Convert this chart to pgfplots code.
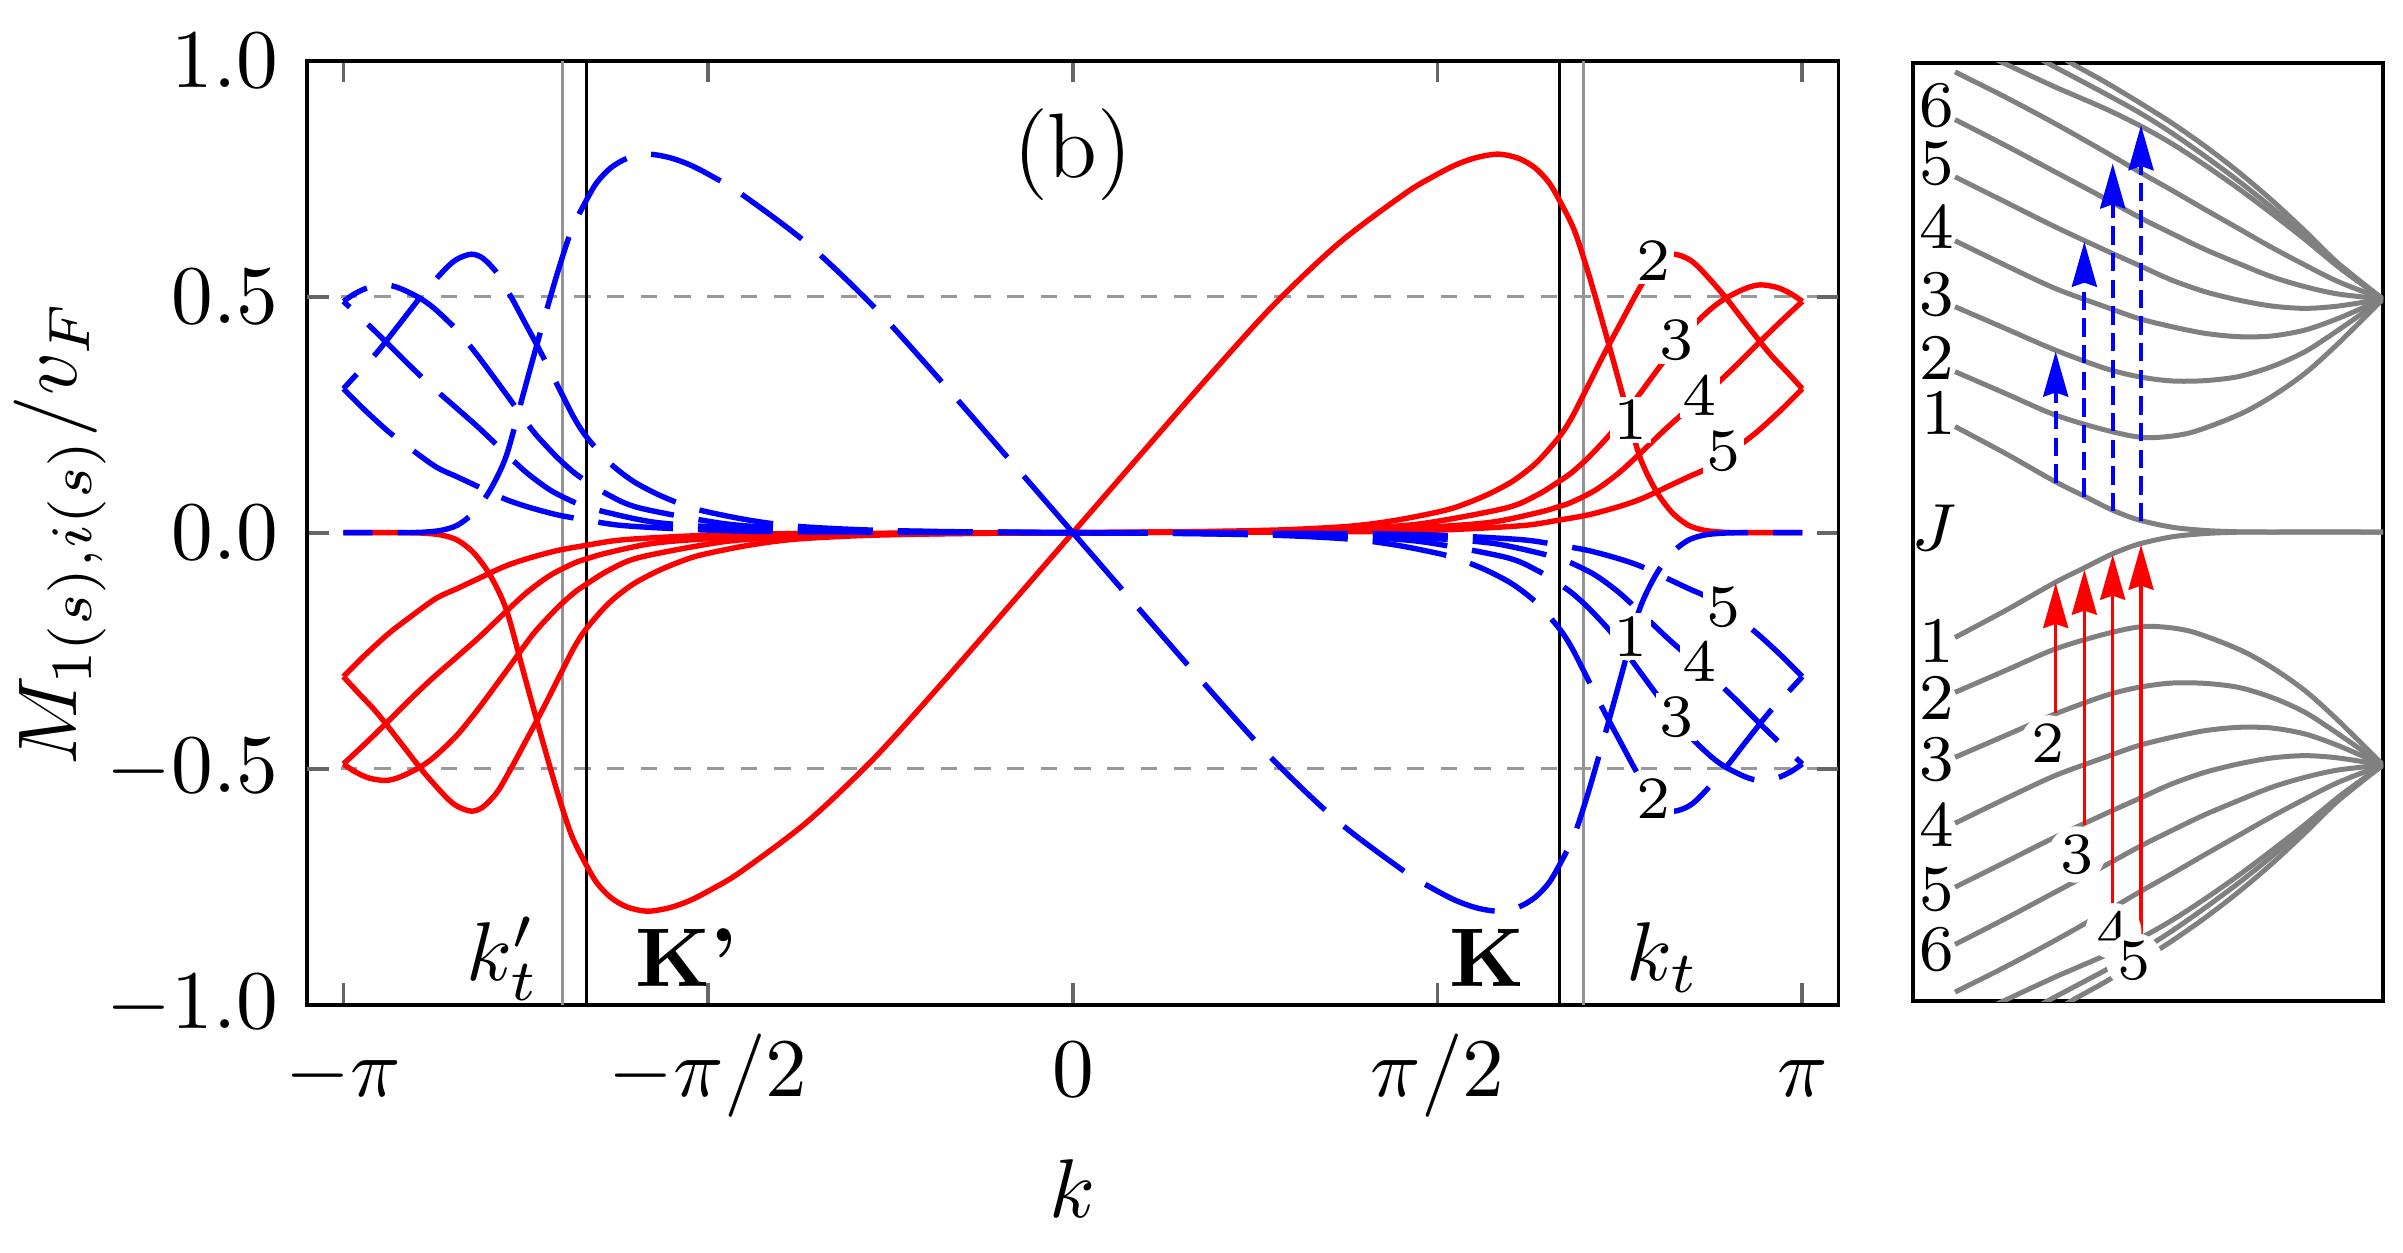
\documentclass[border=0pt]{standalone}
\usepackage{fontspec}
\usepackage{pgfplots}
\pgfplotsset{compat=1.18}
\usepackage{pgfplotstable}
\usetikzlibrary{arrows.meta}

% ---------- main panel: M_n(k) for k>=0 (odd in k); blue = -red ----------
\pgfplotstableread{
k y
0 0
0.284 0.161
0.571 0.323
0.858 0.479
1.145 0.613
1.432 0.719
1.55 0.754
1.648 0.779
1.74 0.795
1.834 0.802
1.92 0.793
1.99 0.773
2.05 0.742
2.10 0.700
2.16 0.640
2.22 0.550
2.28 0.448
2.33 0.360
2.37 0.288
2.44 0.163
2.51 0.090
2.58 0.043
2.65 0.016
2.72 0.005
2.80 0.001
2.90 0
3.1416 0
}\Rone
\pgfplotstableread{
k y
0 0
0.5 0.002
0.9 0.006
1.2 0.014
1.4 0.027
1.6 0.047
1.7 0.063
1.8 0.084
1.9 0.111
2.0 0.150
2.098 0.205
2.15 0.245
2.199 0.292
2.25 0.342
2.30 0.390
2.36 0.445
2.42 0.500
2.48 0.550
2.54 0.581
2.59 0.590
2.65 0.580
2.70 0.560
2.80 0.505
2.90 0.442
3.00 0.380
3.08 0.338
3.1416 0.305
}\Rtwo
\pgfplotstableread{
k y
0 0
0.8 0.003
1.2 0.009
1.5 0.019
1.863 0.052
2.0 0.080
2.098 0.110
2.15 0.128
2.222 0.160
2.313 0.208
2.37 0.245
2.428 0.285
2.543 0.362
2.60 0.398
2.658 0.432
2.75 0.475
2.816 0.498
2.90 0.518
2.96 0.525
3.03 0.520
3.09 0.507
3.1416 0.490
}\Rthree
\pgfplotstableread{
k y
0 0
1.0 0.003
1.5 0.011
1.8 0.022
2.007 0.043
2.098 0.056
2.15 0.065
2.25 0.090
2.35 0.126
2.443 0.168
2.558 0.222
2.65 0.262
2.766 0.312
2.86 0.356
2.96 0.405
3.05 0.448
3.1416 0.490
}\Rfour
\pgfplotstableread{
k y
0 0
1.2 0.002
1.6 0.006
1.936 0.015
2.098 0.027
2.222 0.038
2.35 0.055
2.45 0.072
2.572 0.100
2.65 0.118
2.745 0.140
2.874 0.186
2.95 0.215
3.05 0.260
3.1416 0.305
}\Rfive

% ---------- inset: upper levels (lower ones are mirrored) ----------
\pgfplotstableread{
zx zy
150 1130
300 1210
450 1295
540 1340
620 1380
700 1410
800 1432
900 1442
1000 1446
1100 1446.6
1434 1446.6
}\Uone
\pgfplotstableread{
zx zy
150 965
300 1030
450 1095
600 1140
720 1163
850 1150
1000 1095
1100 1040
1200 970
1300 880
1434 747
}\Utwo
\pgfplotstableread{
zx zy
150 770
300 835
450 900
600 955
700 980
800 993
900 992
1000 980
1100 950
1200 905
1300 840
1434 747
}\Uthree
\pgfplotstableread{
zx zy
150 572
300 645
450 715
600 770
700 805
800 830
900 850
1000 860
1100 858
1200 840
1300 805
1434 747
}\Ufour
\pgfplotstableread{
zx zy
150 380
300 455
450 530
600 600
700 645
800 690
900 725
1000 750
1100 768
1200 775
1300 768
1434 747
}\Ufive
\pgfplotstableread{
zx zy
150 208
300 285
450 365
600 445
700 500
800 550
900 598
1000 640
1100 680
1200 710
1300 732
1434 747
}\Usix
\pgfplotstableread{
zx zy
150 65
300 140
450 220
600 305
708 368
800 420
900 478
1000 535
1100 592
1200 645
1300 695
1434 747
}\Useven
\pgfplotstableread{
zx zy
250 17
310 45
450 110
600 175
708 228
800 280
900 345
1000 415
1100 490
1200 568
1300 650
1434 747
}\Tone
\pgfplotstableread{
zx zy
380 12
440 45
600 130
708 190
800 248
900 318
1000 392
1100 472
1200 558
1300 650
1434 747
}\Ttwo
\pgfplotstableread{
zx zy
460 15
510 45
600 95
708 160
800 218
900 288
1000 365
1100 450
1200 543
1300 640
1434 747
}\Tthree

\pgfplotsset{
  rc/.style={red, line width=0.65pt, smooth, no markers},
  bc/.style={blue, line width=0.65pt, smooth, no markers, dash pattern=on 9pt off 3pt},
  gc/.style={black!50, line width=0.6pt, smooth, no markers},
}
\tikzset{
  nl/.style={fill=white, inner sep=0.4pt, font=\fontsize{7.2}{8}\selectfont},
  il/.style={inner sep=0pt, font=\fontsize{7.8}{9}\selectfont},
  al/.style={fill=white, circle, inner sep=0.2pt, font=\fontsize{7}{8}\selectfont},
}

\begin{document}
\begin{tikzpicture}
\useasboundingbox (0,0) rectangle (288.36pt,150.24pt);
\begin{axis}[
  at={(36.88pt,29.68pt)}, anchor=south west,
  scale only axis, width=183.72pt, height=113.28pt,
  xmin=-3.297, xmax=3.297, ymin=-1, ymax=1,
  axis line style={line width=0.45pt},
  tick align=inside, major tick length=2.6pt,
  tick style={black!60, line width=0.45pt},
  xtick={-3.14159,-1.5708,0,1.5708,3.14159},
  xticklabels={$-\pi$,$-\pi/2$,$0$,$\pi/2$,$\pi$},
  ytick={-1,-0.5,0,0.5,1},
  yticklabels={$-1.0$,$-0.5$,$0.0$,$0.5$,$1.0$},
  xticklabel style={text height=0.75em, text depth=0.25em},
  extra y ticks={-0.5,0.5}, extra y tick labels={},
  extra y tick style={grid=major},
  major grid style={black!40, line width=0.4pt, dash pattern=on 2pt off 2pt},
  xlabel={$k$}, xlabel style={at={(axis description cs:0.5,-0.225)}, anchor=base},
  ylabel={$M_{1(s),i(s)}/v_F$},
  ylabel style={at={(axis description cs:-0.1506,0.5)}, anchor=base},
]
\addplot[black, line width=0.32pt] coordinates {(-2.0944,-1) (-2.0944,1)};
\addplot[black, line width=0.32pt] coordinates {(2.0944,-1) (2.0944,1)};
\addplot[black!42, line width=0.36pt] coordinates {(-2.1991,-1) (-2.1991,1)};
\addplot[black!42, line width=0.36pt] coordinates {(2.1991,-1) (2.1991,1)};

\addplot[rc] table[x=k,y=y]{\Rone};
\addplot[rc] table[x expr=-\thisrow{k}, y expr=-\thisrow{y}]{\Rone};
\addplot[rc] table[x=k,y=y]{\Rtwo};
\addplot[rc] table[x expr=-\thisrow{k}, y expr=-\thisrow{y}]{\Rtwo};
\addplot[rc] table[x=k,y=y]{\Rthree};
\addplot[rc] table[x expr=-\thisrow{k}, y expr=-\thisrow{y}]{\Rthree};
\addplot[rc] table[x=k,y=y]{\Rfour};
\addplot[rc] table[x expr=-\thisrow{k}, y expr=-\thisrow{y}]{\Rfour};
\addplot[rc] table[x=k,y=y]{\Rfive};
\addplot[rc] table[x expr=-\thisrow{k}, y expr=-\thisrow{y}]{\Rfive};

\addplot[bc] table[x=k, y expr=-\thisrow{y}]{\Rone};
\addplot[bc] table[x expr=-\thisrow{k}, y=y]{\Rone};
\addplot[bc] table[x=k, y expr=-\thisrow{y}]{\Rtwo};
\addplot[bc] table[x expr=-\thisrow{k}, y=y]{\Rtwo};
\addplot[bc] table[x=k, y expr=-\thisrow{y}]{\Rthree};
\addplot[bc] table[x expr=-\thisrow{k}, y=y]{\Rthree};
\addplot[bc] table[x=k, y expr=-\thisrow{y}]{\Rfour};
\addplot[bc] table[x expr=-\thisrow{k}, y=y]{\Rfour};
\addplot[bc] table[x=k, y expr=-\thisrow{y}]{\Rfive};
\addplot[bc] table[x expr=-\thisrow{k}, y=y]{\Rfive};

\node[font=\fontsize{11}{13}\selectfont] at (axis cs:0,0.80) {(b)};
\node[anchor=base west, inner sep=0pt] at (axis cs:-2.617,-0.948) {$k'_t$};
\node[anchor=base west, inner sep=0pt] at (axis cs:2.379,-0.948) {$k_t$};
\node[anchor=base west, inner sep=0pt, font=\bfseries] at (axis cs:-1.892,-0.962) {K'};
\node[anchor=base west, inner sep=0pt, font=\bfseries] at (axis cs:1.617,-0.962) {K};

\node[nl] at (axis cs:2.500,0.577) {2};
\node[nl] at (axis cs:2.600,0.408) {3};
\node[nl] at (axis cs:2.400,0.239) {1};
\node[nl] at (axis cs:2.701,0.292) {4};
\node[nl] at (axis cs:2.802,0.172) {5};
\node[nl] at (axis cs:2.802,-0.157) {5};
\node[nl] at (axis cs:2.400,-0.220) {1};
\node[nl] at (axis cs:2.701,-0.273) {4};
\node[nl] at (axis cs:2.600,-0.390) {3};
\node[nl] at (axis cs:2.500,-0.563) {2};
\end{axis}

\begin{axis}[
  at={(229.56pt,30.12pt)}, anchor=south west,
  scale only axis, width=56.4pt, height=112.56pt,
  xmin=24, xmax=1434, ymin=38.1, ymax=2855.1, y dir=reverse,
  xtick=\empty, ytick=\empty,
  axis line style={line width=0.5pt},
]
\addplot[gc] table[x=zx,y=zy]{\Uone};
\addplot[gc] table[x=zx,y=zy]{\Utwo};
\addplot[gc] table[x=zx,y=zy]{\Uthree};
\addplot[gc] table[x=zx,y=zy]{\Ufour};
\addplot[gc] table[x=zx,y=zy]{\Ufive};
\addplot[gc] table[x=zx,y=zy]{\Usix};
\addplot[gc] table[x=zx,y=zy]{\Useven};
\addplot[gc] table[x=zx,y=zy]{\Tone};
\addplot[gc] table[x=zx,y=zy]{\Ttwo};
\addplot[gc] table[x=zx,y=zy]{\Tthree};
\addplot[gc] table[x=zx,y expr=2893.2-\thisrow{zy}]{\Uone};
\addplot[gc] table[x=zx,y expr=2893.2-\thisrow{zy}]{\Utwo};
\addplot[gc] table[x=zx,y expr=2893.2-\thisrow{zy}]{\Uthree};
\addplot[gc] table[x=zx,y expr=2893.2-\thisrow{zy}]{\Ufour};
\addplot[gc] table[x=zx,y expr=2893.2-\thisrow{zy}]{\Ufive};
\addplot[gc] table[x=zx,y expr=2893.2-\thisrow{zy}]{\Usix};
\addplot[gc] table[x=zx,y expr=2893.2-\thisrow{zy}]{\Useven};
\addplot[gc] table[x=zx,y expr=2893.2-\thisrow{zy}]{\Tone};
\addplot[gc] table[x=zx,y expr=2893.2-\thisrow{zy}]{\Ttwo};
\addplot[gc] table[x=zx,y expr=2893.2-\thisrow{zy}]{\Tthree};

\addplot[blue, line width=0.45pt, dash pattern=on 2.2pt off 1pt, -{Stealth[length=5.4pt,width=3pt,inset=0.5pt]}] coordinates {(452,1298) (452,905)};
\addplot[blue, line width=0.45pt, dash pattern=on 2.2pt off 1pt, -{Stealth[length=5.4pt,width=3pt,inset=0.5pt]}] coordinates {(538,1340) (538,575)};
\addplot[blue, line width=0.45pt, dash pattern=on 2.2pt off 1pt, -{Stealth[length=5.4pt,width=3pt,inset=0.5pt]}] coordinates {(623,1385) (623,340)};
\addplot[blue, line width=0.45pt, dash pattern=on 2.2pt off 1pt, -{Stealth[length=5.4pt,width=3pt,inset=0.5pt]}] coordinates {(708,1415) (708,225)};

\addplot[red, line width=0.4pt, -{Stealth[length=5.4pt,width=3pt,inset=0.5pt]}] coordinates {(452,1990) (452,1600)};
\addplot[red, line width=0.4pt, -{Stealth[length=5.4pt,width=3pt,inset=0.5pt]}] coordinates {(538,2325) (538,1560)};
\addplot[red, line width=0.4pt, -{Stealth[length=5.4pt,width=3pt,inset=0.5pt]}] coordinates {(623,2560) (623,1515)};
\addplot[red, line width=0.4pt, -{Stealth[length=5.4pt,width=3pt,inset=0.5pt]}] coordinates {(708,2672) (708,1485)};

\node[il] at (axis cs:95,165) {6};
\node[il] at (axis cs:95,340) {5};
\node[il] at (axis cs:95,530) {4};
\node[il] at (axis cs:95,735) {3};
\node[il] at (axis cs:95,925) {2};
\node[il] at (axis cs:100,1090) {1};
\node[il] at (axis cs:88,1435) {$J$};
\node[il] at (axis cs:95,1775) {1};
\node[il] at (axis cs:95,1945) {2};
\node[il] at (axis cs:95,2130) {3};
\node[il] at (axis cs:95,2325) {4};
\node[il] at (axis cs:95,2520) {5};
\node[il] at (axis cs:95,2700) {6};

\node[al] at (axis cs:430,2080) {2};
\node[al] at (axis cs:515,2415) {3};
\node[al] at (axis cs:625,2645) {4};
\node[al] at (axis cs:688,2735) {5};
\end{axis}
\end{tikzpicture}
\end{document}
